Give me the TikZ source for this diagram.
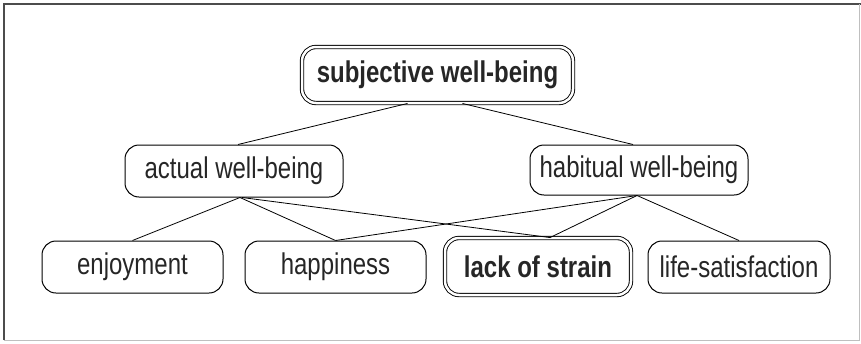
\documentclass[tikz,border=0pt]{standalone}
\usepackage{fontspec}
\usepackage{graphicx}
\setmainfont{Liberation Sans}
\usetikzlibrary{positioning}

\newcommand{\tall}[1]{\scalebox{1}[1.25]{#1}}

\begin{document}
\begin{tikzpicture}[x=1pt,y=-1pt,
    box/.style={draw,line width=1pt,rounded corners=14pt,inner sep=0pt,
      minimum width=181pt,minimum height=52pt,text=black!85,
      font=\fontsize{24}{28}\selectfont},
    keybox/.style={box,double,double distance=2.5pt,line width=0.9pt,
      font=\fontsize{24}{28}\selectfont\bfseries},
    link/.style={line width=0.8pt}]
  \useasboundingbox (0,0) rectangle (861,343);
  % frame
  \draw[black!70,line width=1.2pt] (4,340) -- (4,4) -- (861,4);
  \draw[black!25,line width=0.8pt] (4,340) -- (859,340) -- (859,4);

  % top
  \node[keybox,minimum width=271pt,minimum height=56pt] (swb) at (437.5,75) {\tall{subjective well-being}};
  % middle row
  \node[box,minimum width=218pt] (actual) at (234,171) {\tall{actual well-being}};
  \node[box,minimum width=218pt,minimum height=50pt] (habitual) at (639,170) {\tall{habitual well-being}};
  % bottom row
  \node[box] (enjoy) at (132.5,267) {\tall{enjoyment}};
  \node[box] (happy) at (335.5,267) {\tall{happiness}};
  \node[keybox,minimum width=186pt,minimum height=57pt] (strain) at (538,266.5) {\tall{lack of strain}};
  \node[box,minimum width=182pt] (lifesat) at (739,267) {\tall{life-satisfaction}};

  \draw[link] ([xshift=-30pt]swb.south) -- ([xshift=4pt]actual.north);
  \draw[link] ([xshift=25pt]swb.south) -- ([xshift=-6pt]habitual.north);
  \foreach \c in {enjoy,happy} {
    \draw[link] ([xshift=6pt]actual.south) -- (\c.north);
  }
  \draw[link] ([xshift=8pt]actual.south) -- ([xshift=12pt]strain.north);
  \draw[link] ([xshift=-2pt]habitual.south) -- (happy.north);
  \draw[link] ([xshift=-2pt]habitual.south) -- ([xshift=12pt]strain.north);
  \draw[link] ([xshift=-2pt]habitual.south) -- (lifesat.north);
\end{tikzpicture}
\end{document}
